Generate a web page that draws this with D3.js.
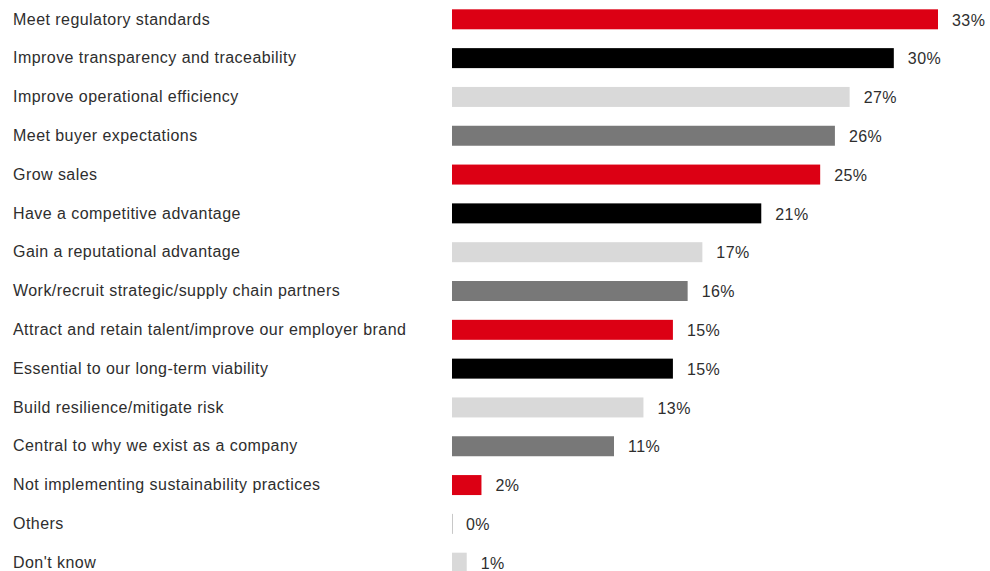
<!DOCTYPE html>
<html>
<head>
<meta charset="utf-8">
<script src="https://cdn.jsdelivr.net/npm/d3@7"></script>
<style>
  html, body { margin: 0; padding: 0; background: #fff; }
  svg { display: block; }
  text { font-family: "Liberation Sans", Arial, sans-serif; fill: #2e2e2e; letter-spacing: 0.45px; }
</style>
</head>
<body>
<svg id="chart" width="990" height="571"></svg>
<script>
// Reasons for implementing sustainability practices (% of respondents)
const categories = [
  "Meet regulatory standards",
  "Improve transparency and traceability",
  "Improve operational efficiency",
  "Meet buyer expectations",
  "Grow sales",
  "Have a competitive advantage",
  "Gain a reputational advantage",
  "Work/recruit strategic/supply chain partners",
  "Attract and retain talent/improve our employer brand",
  "Essential to our long-term viability",
  "Build resilience/mitigate risk",
  "Central to why we exist as a company",
  "Not implementing sustainability practices",
  "Others",
  "Don't know"
];
const values = [33, 30, 27, 26, 25, 21, 17, 16, 15, 15, 13, 11, 2, 0, 1];
const valueLabels = ["33%", "30%", "27%", "26%", "25%", "21%", "17%", "16%", "15%", "15%", "13%", "11%", "2%", "0%", "1%"];

// Bars cycle through a four-colour palette
const palette = ["#dc0014", "#000000", "#d9d9d9", "#787878"];

const svg = d3.select("#chart");

const x = d3.scaleLinear().domain([0, 33]).range([452, 938]);
const y = d3.scaleBand()
  .domain(categories)
  .range([0, 582])
  .paddingInner(0.485)
  .paddingOuter(0.24);

const rows = svg.selectAll("g.row")
  .data(categories.map((c, i) => ({ c, v: values[i], lab: valueLabels[i], i })))
  .join("g")
  .attr("class", "row");

rows.append("rect")
  .attr("x", x(0))
  .attr("y", d => y(d.c))
  .attr("width", d => d.v === 0 ? 1 : x(d.v) - x(0))
  .attr("height", y.bandwidth())
  .attr("fill", d => d.v === 0 ? "#c8c8c8" : palette[d.i % palette.length]);

rows.append("text")
  .attr("x", 13)
  .attr("y", d => y(d.c) + y.bandwidth() / 2 + 1)
  .attr("dominant-baseline", "middle")
  .style("font-size", "16px")
  .text(d => d.c);

rows.append("text")
  .attr("x", d => x(d.v) + 14)
  .attr("y", d => y(d.c) + y.bandwidth() / 2 + 2)
  .attr("dominant-baseline", "middle")
  .style("font-size", "16px")
  .text(d => d.lab);
</script>
</body>
</html>
